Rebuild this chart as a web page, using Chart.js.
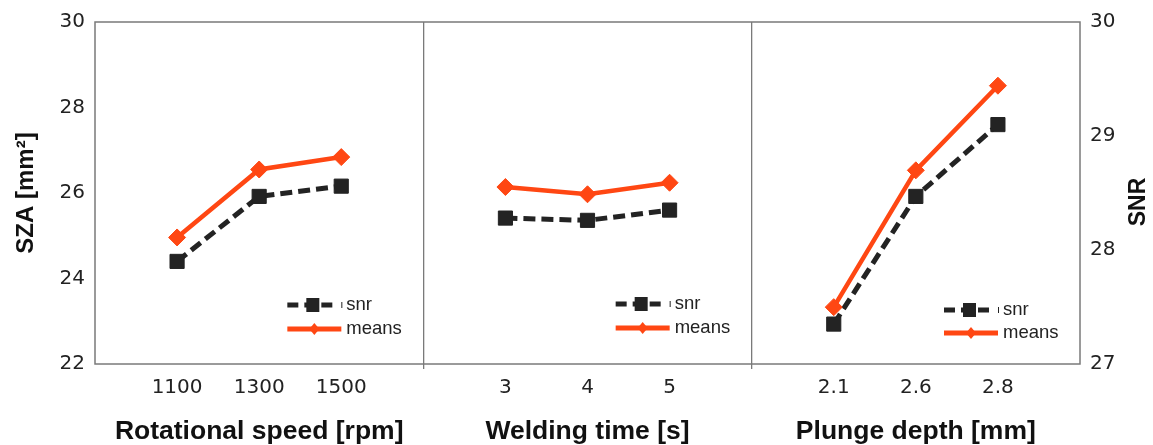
<!DOCTYPE html>
<html><head><meta charset="utf-8">
<script src="https://cdn.jsdelivr.net/npm/chart.js@4"></script>
<style>html,body{margin:0;padding:0;background:#fff;}#wrap{width:1153px;height:445px;position:relative;}</style>
</head><body><div id="wrap"><canvas id="c"></canvas></div>
<script>
// ---- data ----
const speedLabels = ['1100', '1300', '1500'];
const timeLabels = ['3', '4', '5'];
const depthLabels = ['2.1', '2.6', '2.8'];
const factorTitles = ['Rotational speed [rpm]', 'Welding time [s]', 'Plunge depth [mm]'];
const meansSpeed = [24.96, 26.55, 26.84];
const meansTime = [26.14, 25.97, 26.24];
const meansDepth = [23.33, 26.53, 28.51];
const snrSpeed = [27.90, 28.47, 28.56];
const snrTime = [28.28, 28.26, 28.35];
const snrDepth = [27.35, 28.47, 29.10];
const szaRange = [22, 30, 2];
const snrRange = [27, 30, 1];

// ---- build combined category axis (gaps between panels) ----
const labels = ['', ...speedLabels, '', ...timeLabels, '', ...depthLabels, ''];
const titleLabels = ['', '', factorTitles[0], '', '', '', factorTitles[1], '', '', '', factorTitles[2], '', ''];
const meansData = [null, ...meansSpeed, null, ...meansTime, null, ...meansDepth, null];
const snrData = [null, ...snrSpeed, null, ...snrTime, null, ...snrDepth, null];

const ORANGE = '#ff4713';
const BLACK = '#232323';

const panelPlugin = {
  id: 'panelPlugin',
  beforeDatasetsDraw(chart) {
    const {ctx, chartArea: a} = chart;
    ctx.save();
    ctx.strokeStyle = '#7a7a7a';
    ctx.lineWidth = 1.5;
    ctx.strokeRect(a.left, a.top, a.right - a.left, a.bottom - a.top);
    ctx.restore();
  },
  afterDatasetsDraw(chart) {
    const {ctx, chartArea: a} = chart;
    const xs = chart.scales.x;
    const rows = [[59, 35], [60, 36], [54, 31]];
    [4, 8, 12].forEach((idx, p) => {
      const xr = xs.getPixelForValue(idx);
      const y1 = a.bottom - rows[p][0];
      const y2 = a.bottom - rows[p][1];
      ctx.save();
      // snr entry
      ctx.strokeStyle = BLACK;
      ctx.lineWidth = 5;
      ctx.setLineDash([11, 6]);
      ctx.beginPath();
      ctx.moveTo(xr - 136, y1);
      ctx.lineTo(xr - 86, y1);
      ctx.stroke();
      ctx.setLineDash([]);
      ctx.fillStyle = BLACK;
      ctx.fillRect(xr - 117, y1 - 7, 13, 14);
      ctx.lineWidth = 1;
      ctx.beginPath();
      ctx.moveTo(xr - 81.5, y1 - 3);
      ctx.lineTo(xr - 81.5, y1 + 3);
      ctx.stroke();
      // means entry
      ctx.strokeStyle = ORANGE;
      ctx.lineWidth = 5;
      ctx.beginPath();
      ctx.moveTo(xr - 136, y2);
      ctx.lineTo(xr - 82, y2);
      ctx.stroke();
      ctx.fillStyle = ORANGE;
      ctx.beginPath();
      ctx.moveTo(xr - 109, y2 - 6);
      ctx.lineTo(xr - 104, y2);
      ctx.lineTo(xr - 109, y2 + 6);
      ctx.lineTo(xr - 114, y2);
      ctx.closePath();
      ctx.fill();
      // texts
      ctx.fillStyle = '#222';
      ctx.font = '18.5px "Liberation Sans"';
      ctx.textBaseline = 'middle';
      ctx.textAlign = 'left';
      ctx.fillText('snr', xr - 77, y1);
      ctx.fillText('means', xr - 77, y2);
      ctx.restore();
    });
    // right axis title, reading bottom-to-top
    ctx.save();
    ctx.translate(1139, (a.top + a.bottom) / 2 + 9);
    ctx.rotate(-Math.PI / 2);
    ctx.font = 'bold 23px "Liberation Sans"';
    ctx.fillStyle = '#111';
    ctx.textAlign = 'center';
    ctx.textBaseline = 'middle';
    ctx.fillText('SNR', 0, 0);
    ctx.restore();
  }
};

const tickFont = {family: 'DejaVu Sans', size: 20};

new Chart(document.getElementById('c'), {
  type: 'line',
  data: {
    labels,
    datasets: [
      {
        label: 'means', data: meansData, yAxisID: 'y', xAxisID: 'x', order: 0,
        borderColor: ORANGE, backgroundColor: ORANGE, borderWidth: 4.5,
        pointStyle: 'rectRot', pointRadius: 8.5, pointHoverRadius: 8.5,
        pointBackgroundColor: ORANGE, pointBorderColor: ORANGE, pointBorderWidth: 1,
        spanGaps: false, tension: 0
      },
      {
        label: 'snr', data: snrData, yAxisID: 'y1', xAxisID: 'x', order: 1,
        borderColor: BLACK, backgroundColor: BLACK, borderWidth: 5, borderDash: [12, 6],
        pointStyle: 'rect', pointRadius: 10, pointHoverRadius: 10,
        pointBackgroundColor: BLACK, pointBorderColor: BLACK, pointBorderWidth: 1,
        spanGaps: false, tension: 0
      }
    ]
  },
  options: {
    responsive: true, maintainAspectRatio: false, animation: false,
    layout: {padding: {top: 20, left: 0, right: 0, bottom: 0}},
    plugins: {legend: {display: false}, tooltip: {enabled: false}},
    scales: {
      x: {
        type: 'category', offset: false, position: 'bottom',
        grid: {color: c => (c.index === 4 || c.index === 8) ? '#7a7a7a' : 'rgba(0,0,0,0)', lineWidth: 1.3, tickLength: 5, drawOnChartArea: true},
        border: {display: false},
        ticks: {autoSkip: false, maxRotation: 0, padding: 7, font: tickFont, color: '#222'},
        afterFit: s => { s.height = 45; }
      },
      x2: {
        type: 'category', labels: titleLabels, offset: false, position: 'bottom',
        grid: {display: false, drawTicks: false}, border: {display: false},
        ticks: {autoSkip: false, maxRotation: 0, padding: 7, font: {family: 'Liberation Sans', size: 26.5, weight: 'bold'}, color: '#111'},
        afterFit: s => { s.height = 36; }
      },
      y: {
        position: 'left', min: szaRange[0], max: szaRange[1],
        ticks: {stepSize: szaRange[2], padding: 10, font: tickFont, color: '#222'},
        grid: {display: false, drawTicks: false}, border: {display: false},
        title: {display: true, text: 'SZA [mm²]', font: {family: 'Liberation Sans', size: 24, weight: 'bold'}, color: '#111', padding: {top: 12, bottom: 0}},
        afterFit: s => { s.width = 95; }
      },
      y1: {
        position: 'right', min: snrRange[0], max: snrRange[1],
        ticks: {stepSize: snrRange[2], padding: 10, font: tickFont, color: '#222'},
        grid: {display: false, drawTicks: false}, border: {display: false},
        afterFit: s => { s.width = 73; }
      }
    }
  },
  plugins: [panelPlugin]
});
</script>
</body></html>
